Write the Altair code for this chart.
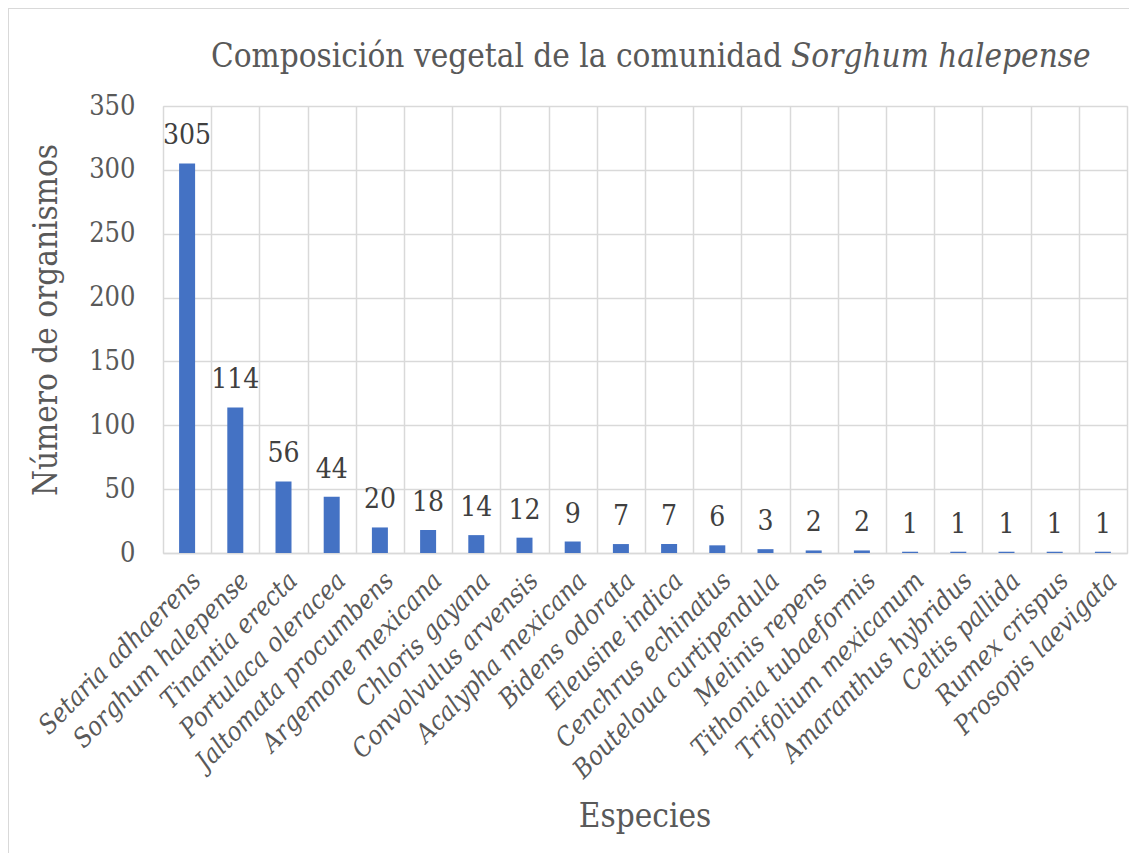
import altair as alt
import pandas as pd

species = [
    "Setaria adhaerens", "Sorghum halepense", "Tinantia erecta", "Portulaca oleracea",
    "Jaltomata procumbens", "Argemone mexicana", "Chloris gayana", "Convolvulus arvensis",
    "Acalypha mexicana", "Bidens odorata", "Eleusine indica", "Cenchrus echinatus",
    "Bouteloua curtipendula", "Melinis repens", "Tithonia tubaeformis", "Trifolium mexicanum",
    "Amaranthus hybridus", "Celtis pallida", "Rumex crispus", "Prosopis laevigata",
]
counts = [305, 114, 56, 44, 20, 18, 14, 12, 9, 7, 7, 6, 3, 2, 2, 1, 1, 1, 1, 1]
y_ticks = [0, 50, 100, 150, 200, 250, 300, 350]

title_normal = "Composición vegetal de la comunidad"
title_italic = "Sorghum halepense"
x_title = "Especies"
y_title = "Número de organismos"

df = pd.DataFrame({"Especie": species, "n": counts})

FONT = "DejaVu Serif Condensed"
GRID = "#d9d9d9"
TXT = "#595959"
W, H = 964, 447

x_enc = alt.X(
    "Especie:N",
    sort=species,
    scale=alt.Scale(paddingInner=0, paddingOuter=0),
    axis=alt.Axis(
        title=None, labelAngle=-45, labelFont=FONT, labelFontStyle="italic",
        labelFontSize=26, labelColor=TXT, labelPadding=14, ticks=False,
        grid=True, gridColor=GRID, gridWidth=1.5, tickBand="extent",
        domainColor=GRID, domainWidth=1.5, labelOverlap=False, labelLimit=0,
    ),
)
y_enc = alt.Y(
    "n:Q",
    scale=alt.Scale(domain=[0, 350]),
    axis=alt.Axis(
        title=None, values=y_ticks, labelFont=FONT, labelFontSize=27,
        labelColor=TXT, labelPadding=28, ticks=False, domain=False,
        grid=True, gridColor=GRID, gridWidth=1.5,
    ),
)

bars = alt.Chart(df).mark_bar(color="#4472C4", size=16).encode(x=x_enc, y=y_enc)

labels = alt.Chart(df).mark_text(
    font=FONT, fontSize=28, color="#404040", dy=-19, baseline="alphabetic"
).encode(x=alt.X("Especie:N", sort=species), y="n:Q", text="n:Q")

one = pd.DataFrame({"k": [0]})

t1 = alt.Chart(one).mark_text(
    text=title_normal, font=FONT, fontSize=33, color=TXT, align="right", baseline="alphabetic"
).encode(x=alt.value(619), y=alt.value(-39))
t2 = alt.Chart(one).mark_text(
    text=title_italic, font=FONT, fontSize=33, fontStyle="italic", color=TXT,
    align="left", baseline="alphabetic"
).encode(x=alt.value(628), y=alt.value(-39))

xt = alt.Chart(one).mark_text(
    text=x_title, font=FONT, fontSize=33, color=TXT, align="center", baseline="alphabetic"
).encode(x=alt.value(482), y=alt.value(721))
yt = alt.Chart(one).mark_text(
    text=y_title, font=FONT, fontSize=33, color=TXT, align="center",
    baseline="alphabetic", angle=270
).encode(x=alt.value(-106), y=alt.value(214))

border = alt.Chart(one).mark_rect(
    filled=False, stroke=GRID, strokeWidth=2
).encode(x=alt.value(-155), x2=alt.value(2000), y=alt.value(-98), y2=alt.value(2000))

chart = alt.layer(bars, labels, t1, t2, xt, yt, border).properties(
    width=W, height=H, autosize="none",
    padding={"left": 155, "top": 98, "right": 2, "bottom": 300},
).configure_view(stroke=GRID, strokeWidth=1.5).configure(background="white")

chart.save("out.html", embed_options={"renderer": "svg", "actions": False})
